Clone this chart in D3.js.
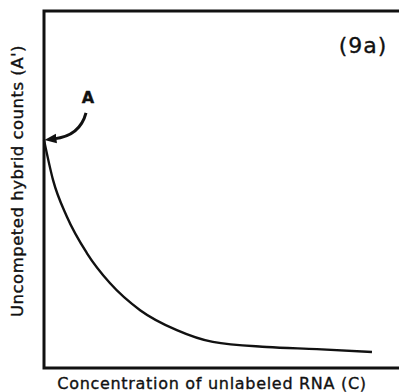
<!DOCTYPE html>
<html>
<head>
<meta charset="utf-8">
<script src="https://cdn.jsdelivr.net/npm/d3@7"></script>
<style>
  body { margin: 0; background: #fff; }
  text { font-family: "DejaVu Sans", sans-serif; fill: #111; stroke: #111; stroke-width: 0.35; }
</style>
</head>
<body>
<script>
// concentration of unlabeled RNA (arbitrary units) and uncompeted counts (fraction)
var conc   = [0, 0.25, 0.64, 1.19, 1.83, 2.67, 3.69, 4.69, 6.19, 7.58, 9.11];
var counts = [0.639, 0.527, 0.423, 0.322, 0.238, 0.162, 0.106, 0.073, 0.059, 0.053, 0.045];
var xLabel = "Concentration of unlabeled RNA (C)";
var yLabel = "Uncompeted hybrid counts (A')";
var panel = "(9a)";

var width = 399, height = 392;
var margin = {top: 11, left: 44, bottom: 24};

var x = d3.scaleLinear().domain([0, 10]).range([margin.left, margin.left + 360]);
var y = d3.scaleLinear().domain([0, 1]).range([height - margin.bottom, margin.top]);

var svg = d3.select("body").append("svg")
  .attr("width", width)
  .attr("height", height);

// frame (right side runs off the picture)
svg.append("path")
  .attr("d", "M" + (width + 10) + "," + y(1) + "H" + x(0) + "V" + y(0) + "H" + (width + 10))
  .attr("fill", "none")
  .attr("stroke", "#111")
  .attr("stroke-width", 3);

var line = d3.line()
  .x(function(d, i) { return x(conc[i]); })
  .y(function(d, i) { return y(counts[i]); })
  .curve(d3.curveMonotoneX);

svg.append("path")
  .datum(counts)
  .attr("d", line)
  .attr("fill", "none")
  .attr("stroke", "#111")
  .attr("stroke-width", 2.4);

// arrow pointing at the start of the curve
svg.append("defs").append("marker")
  .attr("id", "head")
  .attr("viewBox", "0 0 10 10")
  .attr("refX", 2).attr("refY", 5)
  .attr("markerWidth", 4).attr("markerHeight", 4)
  .attr("orient", "auto-start-reverse")
  .append("path")
  .attr("d", "M0,1 L10,5 L0,9 Z")
  .attr("fill", "#111");

var ax = x(0), ay = y(counts[0]);
svg.append("path")
  .attr("d", "M" + (ax + 42) + "," + (ay - 27) + "Q" + (ax + 36) + "," + (ay - 4) + " " + (ax + 10) + "," + (ay - 1))
  .attr("fill", "none")
  .attr("stroke", "#111")
  .attr("stroke-width", 3)
  .attr("marker-end", "url(#head)");

svg.append("text")
  .attr("x", ax + 44).attr("y", ay - 37)
  .attr("text-anchor", "middle")
  .attr("font-size", 16)
  .attr("font-weight", "bold")
  .text("A");

svg.append("text")
  .attr("x", 363).attr("y", 53)
  .attr("text-anchor", "middle")
  .attr("font-size", 22)
  .attr("letter-spacing", 1)
  .text(panel);

svg.append("text")
  .attr("x", 212).attr("y", 389)
  .attr("text-anchor", "middle")
  .attr("font-size", 16)
  .attr("letter-spacing", 0.7)
  .text(xLabel);

svg.append("text")
  .attr("transform", "translate(23," + 181 + ") rotate(-90)")
  .attr("text-anchor", "middle")
  .attr("font-size", 16.5)
  .attr("letter-spacing", 0.5)
  .text(yLabel);
</script>
</body>
</html>
